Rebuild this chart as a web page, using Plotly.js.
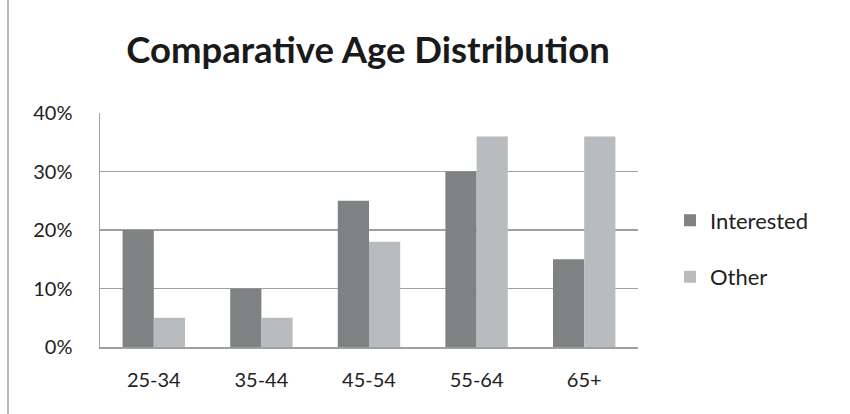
<!DOCTYPE html>
<html><head><meta charset="utf-8">
<script src="https://cdn.plot.ly/plotly-3.0.1.min.js"></script>
<style>body{margin:0;background:#fff}#c{width:850px;height:414px}</style>
</head><body><div id="c"></div>
<script>
const categories = ["25-34","35-44","45-54","55-64","65+"];
const interested = [20, 10, 25, 30, 15];
const other = [5, 5, 18, 36, 36];
const yTicks = [0, 10, 20, 30, 40];
const yTickLabels = ["0%","10%","20%","30%","40%"];

const font = "Lato, 'Open Sans', sans-serif";
const data = [
  {type:"bar", name:"Interested", x:categories, y:interested, marker:{color:"#7f8282"}, legendgroup:"a"},
  {type:"bar", name:"Other", x:categories, y:other, marker:{color:"#b9bcbf"}, legendgroup:"b"}
];
const layout = {
  width:850, height:414,
  margin:{l:100, r:212, t:113, b:67},
  paper_bgcolor:"#fff", plot_bgcolor:"#fff",
  barmode:"group", bargap:0.42, bargroupgap:0,
  title:{text:"<b>Comparative Age Distribution</b>", font:{family:font, size:36.5, color:"#1a1a1a"}, x:0.433, xanchor:"center", y:0.878, yanchor:"middle"},
  xaxis:{showline:true, linecolor:"#a0a0a0", linewidth:1.5, ticks:"", ticklabelstandoff:14, tickfont:{family:font, size:20, color:"#222"}, showgrid:false},
  yaxis:{range:[0,40], tickvals:yTicks, ticktext:yTickLabels, showline:true, linecolor:"#a0a0a0", linewidth:1.5, gridcolor:"#a0a0a0", gridwidth:1.5, zeroline:false, ticklabelstandoff:22, tickfont:{family:font, size:20, color:"#222"}, ticks:"", ticklen:0},
  showlegend:true,
  legend:{x:1.0595, y:0.419, xanchor:"left", yanchor:"middle", font:{family:font, size:22, color:"#222"}, tracegroupgap:25, traceorder:"grouped", itemwidth:30},
  shapes:[{type:"line", xref:"paper", yref:"paper", x0:-0.171, x1:-0.171, y0:-0.3, y1:1.5, line:{color:"#a0a0a0", width:1.5}}]
};
Plotly.newPlot("c", data, layout, {displayModeBar:false, staticPlot:true});
</script></body></html>
